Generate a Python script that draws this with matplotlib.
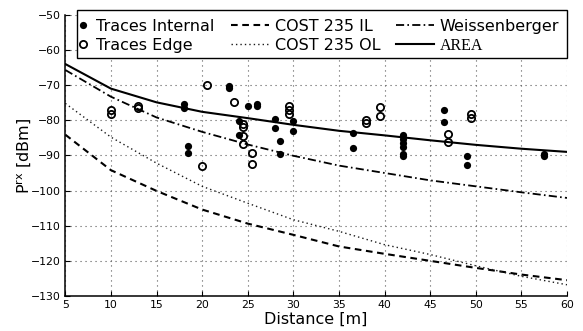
import matplotlib
matplotlib.use("Agg")
import matplotlib.pyplot as plt
from matplotlib.patches import Rectangle

# ---- data ----
int_x = [18, 18, 18.5, 18.5, 23, 23, 24, 24, 25, 26, 26, 28, 28, 28.5, 28.5,
         30, 30, 36.5, 36.5, 42, 42, 42, 42, 42, 42, 46.5, 46.5, 49, 49, 57.5, 57.5]
int_y = [-75.3, -76.6, -87.2, -89.2, -70.2, -70.9, -80.2, -84.1, -75.9, -75.3, -75.9,
         -79.6, -82.2, -85.9, -89.6, -80.2, -83.2, -83.7, -87.9,
         -84.3, -85.3, -86.5, -87.6, -89.7, -90.2, -77.2, -80.5, -90.3, -92.7, -89.5, -90.3]

edge_x = [10, 10, 13, 13, 20, 20.5, 23.5, 24.5, 24.5, 24.5, 24.5, 25.5, 25.5,
          29.5, 29.5, 29.5, 38, 38, 39.5, 39.5, 47, 47, 49.5, 49.5]
edge_y = [-77.2, -78.2, -75.9, -76.6, -93.0, -70.0, -74.9, -81.0, -82.0, -84.5, -86.7,
          -89.3, -92.4, -76.0, -77.0, -78.2, -79.9, -80.8, -76.1, -78.7, -83.9, -86.1,
          -78.3, -79.4]

dist = [5, 10, 15, 20, 25, 30, 35, 40, 45, 50, 55, 60]
area = [-64.0, -71.0, -74.9, -77.6, -79.4, -81.3, -83.0, -84.3, -85.7, -87.0, -88.1, -89.0]
weissenberger = [-65.7, -73.3, -79.2, -83.3, -86.9, -90.1, -92.9, -95.0, -97.1, -98.8, -100.5, -102.1]
cost_il = [-84.1, -94.2, -100.1, -105.4, -109.4, -112.6, -115.9, -118.0, -120.0, -122.0, -123.9, -125.5]
cost_ol = [-75.2, -84.8, -92.2, -98.8, -103.6, -108.3, -111.6, -115.4, -118.2, -121.4, -124.4, -126.8]

xticks = [5, 10, 15, 20, 25, 30, 35, 40, 45, 50, 55, 60]
yticks = [-130, -120, -110, -100, -90, -80, -70, -60, -50]

W, H = 583, 331
fig = plt.figure(figsize=(W / 100, H / 100), dpi=100)
L, R, T, B = 65.3, 567.0, 14.8, 296.0
ax = fig.add_axes([L / W, 1 - B / H, (R - L) / W, (B - T) / H])

l_il, = ax.plot(dist, cost_il, color='k', lw=1.5, dashes=(3.2, 2.2), label='COST 235 IL')
l_ol, = ax.plot(dist, cost_ol, color='0.1', lw=1.0, dashes=(1, 2.2), label='COST 235 OL')
l_w, = ax.plot(dist, weissenberger, color='k', lw=1.3, dashes=(4.5, 1.8, 0.9, 1.8), label='Weissenberger')
l_a, = ax.plot(dist, area, color='k', lw=1.5, label='AREA')

p_int, = ax.plot(int_x, int_y, 'o', color='k', ms=5.2, mew=0, label='Traces Internal', zorder=4)
p_edge, = ax.plot(edge_x, edge_y, 'o', mfc='none', mec='k', ms=5.2, mew=1.3,
                  label='Traces Edge', zorder=4)

ax.set_xlim(5, 60)
ax.set_ylim(-130, -50)
ax.set_xticks(xticks)
ax.set_yticks(yticks)
for s in ['top', 'right']:
    ax.spines[s].set_visible(False)
for s in ['left', 'bottom']:
    ax.spines[s].set_linewidth(1.1)
ax.tick_params(direction='in', length=3.5, width=0.8, labelsize=7.8, pad=3)
ax.grid(True, color='0.35', lw=0.8, dashes=(1, 3.5))
ax.set_axisbelow(True)

ax.set_xlabel('Distance [m]', fontsize=11.5, labelpad=1)
ax.set_ylabel('P$^{\\mathrm{rx}}$ [dBm]', fontsize=11.5, labelpad=-1)

# legend frame
fig.patches.append(Rectangle((77 / W, 1 - 58 / H), (567 - 77) / W, 48 / H,
                             transform=fig.transFigure, facecolor='white',
                             edgecolor='k', lw=1.0, zorder=2))

fs = 11.5
top = 1 - 19.0 / H
legA = fig.legend(handles=[p_int, p_edge], loc='upper left',
                  bbox_to_anchor=(78 / W, top), bbox_transform=fig.transFigure,
                  frameon=False, borderpad=0, borderaxespad=0, handlelength=0.65,
                  handletextpad=0.45, labelspacing=0.25, fontsize=fs, numpoints=1)
legB = fig.legend(handles=[l_il, l_ol, l_w, l_a], loc='upper left', ncol=2,
                  bbox_to_anchor=(231 / W, top), bbox_transform=fig.transFigure,
                  frameon=False, borderpad=0, borderaxespad=0, handlelength=2.4,
                  handletextpad=0.35, labelspacing=0.25, columnspacing=0.95, fontsize=fs)
legB.get_texts()[3].set_fontfamily('Liberation Serif')

fig.savefig('out.png', dpi=100)
